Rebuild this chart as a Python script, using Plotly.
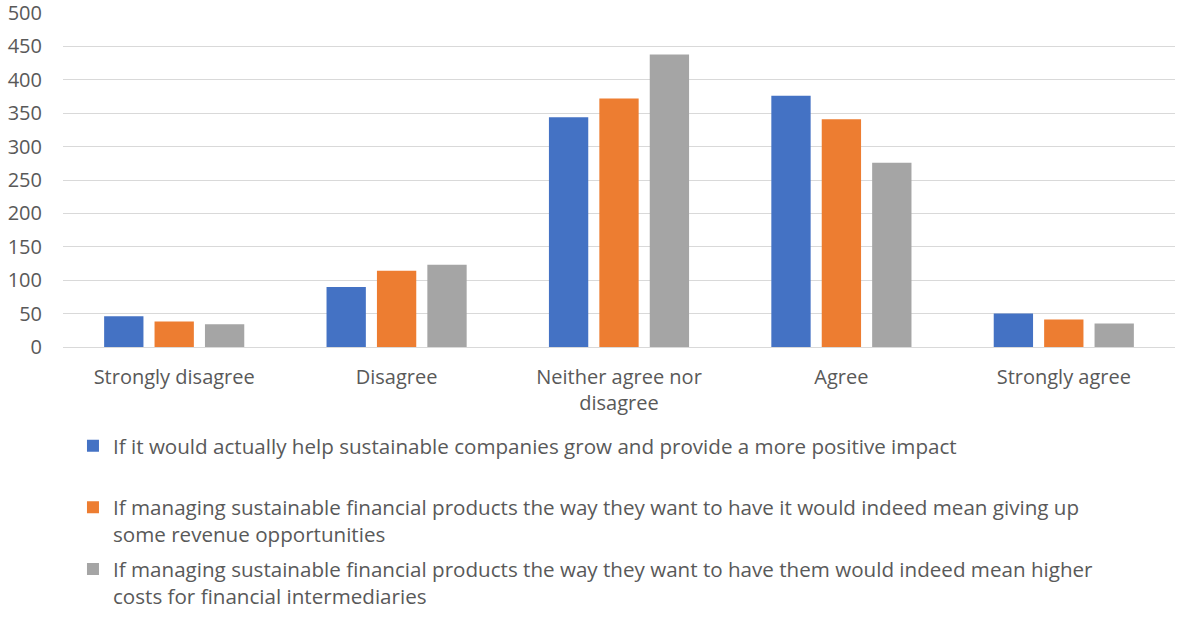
import plotly.graph_objects as go

categories = ["Strongly disagree", "Disagree", "Neither agree nor<br>disagree", "Agree", "Strongly agree"]

series_names = [
    "If it would actually help sustainable companies grow and provide a more positive impact<br> ",
    "If managing sustainable financial products the way they want to have it would indeed mean giving up<br>some revenue opportunities",
    "If managing sustainable financial products the way they want to have them would indeed mean higher<br>costs for financial intermediaries",
]
help_growth = [46, 90, 344, 376, 50]
revenue_loss = [38, 114, 372, 341, 41]
higher_costs = [34, 123, 438, 276, 35]

colors = ["#4472C4", "#ED7D31", "#A5A5A5"]
font_family = "'Open Sans', sans-serif"
text_color = "#595959"
font_size = 20

fig = go.Figure()
for i, (name, vals) in enumerate(zip(series_names, [help_growth, revenue_loss, higher_costs])):
    fig.add_trace(go.Bar(
        x=categories, y=vals, name=name,
        marker=dict(color=colors[i], line=dict(width=0)),
        legendgroup=f"g{i}",
    ))

fig.update_layout(
    width=1177, height=619,
    margin=dict(l=63, r=2, t=13, b=272, autoexpand=False),
    paper_bgcolor="white", plot_bgcolor="white",
    barmode="group", bargap=0.32, bargroupgap=0.22,
    font=dict(family=font_family, size=font_size, color=text_color),
    showlegend=True,
    legend=dict(
        orientation="v",
        xref="container", yref="container",
        x=0.062, y=0.312, xanchor="left", yanchor="top",
        valign="top",
        tracegroupgap=5,
        font=dict(family=font_family, size=20.6, color=text_color),
        itemclick=False,
    ),
)
fig.update_yaxes(
    range=[0, 500], dtick=50, tick0=0,
    tickvals=list(range(0, 501, 50)),
    ticklabeloverflow="allow",
    showgrid=True, gridcolor="#D9D9D9", gridwidth=1.3,
    zeroline=True, zerolinecolor="#D9D9D9", zerolinewidth=1.3,
    showline=False, ticks="", ticklabelstandoff=20,
    tickfont=dict(size=font_size, color=text_color),
)
fig.update_xaxes(
    showgrid=False, showline=False, ticks="", ticklabelstandoff=16,
    tickfont=dict(size=font_size, color=text_color),
)

fig.write_html("out.html")
